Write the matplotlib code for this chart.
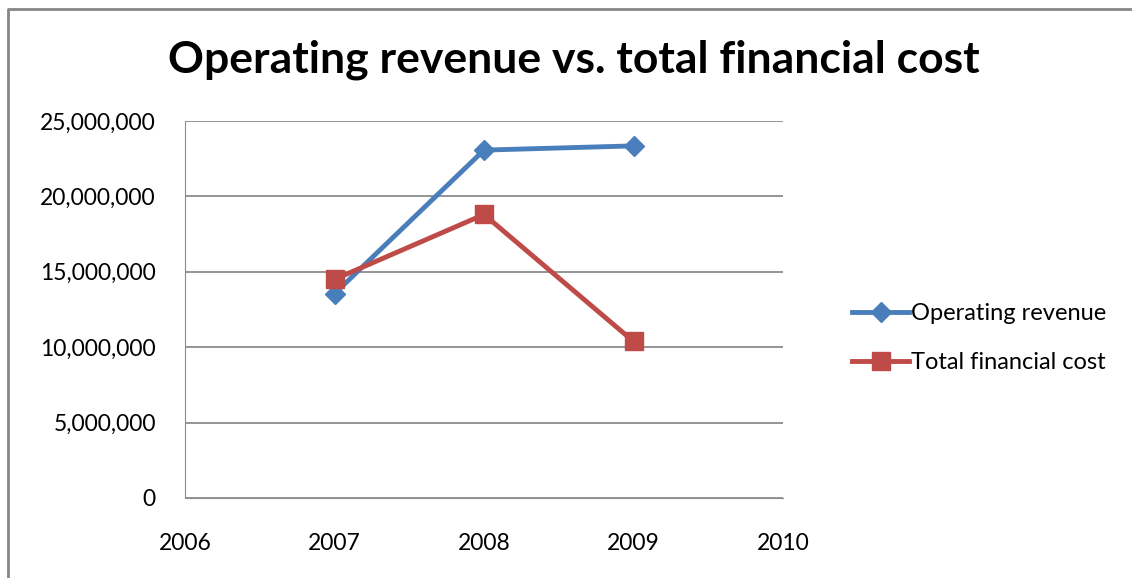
import matplotlib.pyplot as plt
from matplotlib.ticker import FuncFormatter, MultipleLocator

years = [2007, 2008, 2009]
operating_revenue = [13550000, 23070000, 23350000]
total_financial_cost = [14500000, 18800000, 10380000]

plt.rcParams['font.family'] = ['Lato', 'DejaVu Sans']

fig = plt.figure(figsize=(11.32, 5.78), dpi=100)
ax = fig.add_axes([185 / 1132, 1 - 498 / 578, 598 / 1132, 377 / 578])

ax.plot(years, operating_revenue, color='#4A7EBB', lw=3.5, marker='D',
        markersize=10, label='Operating revenue')
ax.plot(years, total_financial_cost, color='#BE4B48', lw=3.5, marker='s',
        markersize=13, label='Total financial cost')

ax.set_xlim(2006, 2010)
ax.set_ylim(0, 25000000)
ax.set_xticks([2006, 2007, 2008, 2009, 2010])
ax.yaxis.set_major_locator(MultipleLocator(5000000))
ax.yaxis.set_major_formatter(FuncFormatter(lambda v, p: f'{int(v):,}'))
ax.grid(axis='y', color='#8c8c8c', lw=1.3)
ax.set_axisbelow(True)
for s in ['top', 'right']:
    ax.spines[s].set_visible(False)
ax.spines['left'].set_color('#8c8c8c')
ax.spines['bottom'].set_color('#8c8c8c')
ax.tick_params(length=0, labelsize=16.5, colors='black')
ax.tick_params(axis='y', pad=21)
ax.tick_params(axis='x', pad=25)

fig.text(574 / 1132, 1 - 60 / 578, 'Operating revenue vs. total financial cost',
         ha='center', va='center', fontsize=32, fontweight='bold')

ax.legend(loc='center left', bbox_to_anchor=(831 / 1132, 1 - 338 / 578),
          bbox_transform=fig.transFigure, frameon=False, fontsize=17,
          handlelength=2.4, handletextpad=0.1, labelspacing=1.2)

# outer chart border (cropped)
fig.add_artist(plt.Line2D([8 / 1132, 8 / 1132, 1], [0, 1 - 9 / 578, 1 - 9 / 578],
                          transform=fig.transFigure, color='#868686', lw=2))

fig.savefig('out.png', dpi=100)
